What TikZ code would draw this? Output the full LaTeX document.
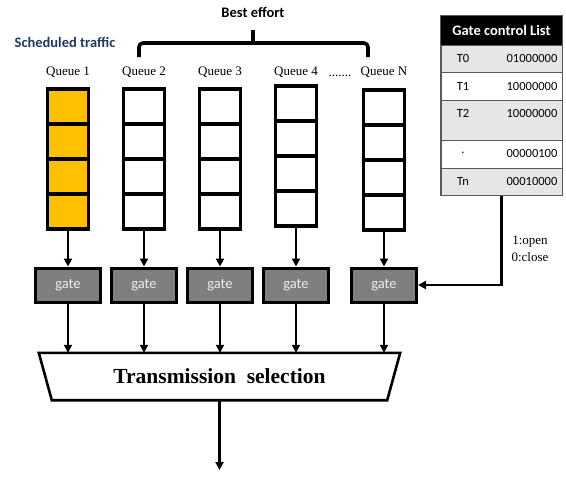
\documentclass[tikz,border=0pt]{standalone}
\usepackage{fontspec}
\setmainfont{Liberation Serif}
\newfontfamily\carlito{Carlito}
\usetikzlibrary{arrows.meta,calc}
\definecolor{qyellow}{HTML}{FFC000}
\definecolor{gategray}{HTML}{7F7F7F}
\definecolor{gatetext}{HTML}{EDEDED}
\definecolor{rowgray}{HTML}{E7E6E6}
\definecolor{tabline}{HTML}{595959}
\definecolor{navy}{HTML}{203864}
\begin{document}
\begin{tikzpicture}[x=1pt,y=-1pt,
  cell/.style={draw, line width=3.2pt, minimum width=41pt, minimum height=35pt, inner sep=0pt},
  qlabel/.style={font=\fontsize{13}{15}\selectfont, inner sep=0pt},
  gatebox/.style={draw, line width=3pt, fill=gategray, minimum width=65pt, minimum height=34pt, inner sep=0pt, text=gatetext, font=\carlito\fontsize{14.5}{16}\selectfont},
  arr/.style={line width=2.6pt, -{Triangle[length=8pt,width=8pt]}},
  tabrow/.style={draw=tabline, line width=1pt, fill=#1, minimum width=121pt, inner sep=0pt},
  tcell/.style={font=\carlito\fontsize{12.5}{14}\selectfont, inner sep=0pt},
  heading/.style={font=\carlito\bfseries\fontsize{14.5}{17}\selectfont, inner sep=0pt},
  bracket/.style={line width=3.6pt, rounded corners=4pt}
]
\useasboundingbox (0,0) rectangle (566,477);

% headings
\node[heading, text=navy] (sched) at (65,42) {Scheduled traffic};
\node[heading] (best) at (253,12) {Best effort};

% bracket over best-effort queues
\coordinate (bl) at (139,57);
\coordinate (br) at (368,57);
\coordinate (bm) at (253,43);
\coordinate (bt) at (253,30);
\draw[bracket] (bl) -- (bl |- bm) -- (br |- bm) -- (br);
\draw[line width=3.6pt] (bm) -- (bt);

% transmission selection
\node[font=\bfseries\fontsize{21.5}{24}\selectfont, minimum width=361pt, minimum height=47pt, inner sep=0pt] (ts) at (219.5,376.5) {Transmission\ \ selection};
\draw[line width=2.6pt, line join=miter] (ts.north west) -- (ts.north east) -- ([xshift=-13pt]ts.south east) -- ([xshift=13pt]ts.south west) -- cycle;
\coordinate (out) at (219.5,470);
\draw[arr] (ts.south) -- (out);

% queues and gates
\foreach \n/\x/\t/\f in {1/68/89/qyellow,2/144/89/white,3/220/89/white,4/296/86/white,N/384/90/white}{
  \foreach \i in {1,...,4}{
    \node[cell, fill=\f] (q\n c\i) at (\x,{\t+35*(\i-0.5)}) {};
  }
  \node[qlabel] (lab\n) at (\x,72) {Queue \n};
  \node[gatebox] (g\n) at (\x,285) {gate};
  \draw[arr] (q\n c4.south) -- (g\n.north);
  \draw[arr] (g\n.south) -- (g\n.south |- ts.north);
}
\node[qlabel, anchor=base] (dots) at (340,76.5) {.......};

% gate control list
\node[draw=black, fill=black, minimum width=121pt, minimum height=29pt, inner sep=0pt, text=white, font=\carlito\bfseries\fontsize{14.5}{17}\selectfont] (hdr) at (501.5,30.5) {Gate control List};
\node[tabrow=rowgray, minimum height=27pt] (r0) at (501.5,58.5) {};
\node[tabrow=white, minimum height=28pt] (r1) at (501.5,86) {};
\node[tabrow=rowgray, minimum height=40pt] (r2) at (501.5,120) {};
\node[tabrow=white, minimum height=28pt] (r3) at (501.5,154) {};
\node[tabrow=rowgray, minimum height=27pt] (r4) at (501.5,181.5) {};
\draw[draw=tabline, line width=1.3pt] (hdr.north west) rectangle (r4.south east);

\node[tcell] (t0a) at (463,58) {T0};
\node[tcell] (t0b) at (532,58) {01000000};
\node[tcell] (t1a) at (463,86) {T1};
\node[tcell] (t1b) at (532,86) {10000000};
\node[tcell] (t2a) at (463,113) {T2};
\node[tcell] (t2b) at (532,113) {10000000};
\node[tcell] (t3a) at (463,153) {.};
\node[tcell] (t3b) at (532,153) {00000100};
\node[tcell] (t4a) at (463,181) {Tn};
\node[tcell] (t4b) at (532,181) {00010000};

\draw[arr] (r4.south) |- (gN.east);
\node[font=\fontsize{13}{17}\selectfont, align=center, inner sep=0pt] (oc) at (530,249) {1:open\\0:close};
\end{tikzpicture}
\end{document}
